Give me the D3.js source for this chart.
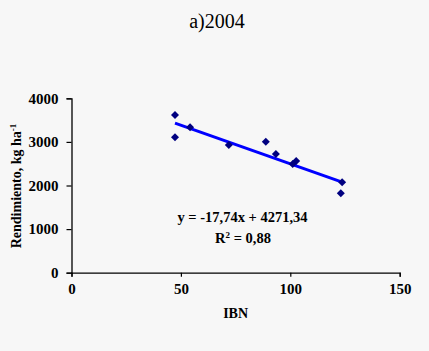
<!DOCTYPE html>
<html>
<head>
<meta charset="utf-8">
<script src="https://cdn.jsdelivr.net/npm/d3@7"></script>
<style>
  body { margin: 0; background: #f7f7f7; }
  svg { display: block; }
</style>
</head>
<body>
<div id="chart"></div>
<script>
// datos (IBN vs rendimiento)
const ibn = [47.3, 47.3, 54.2, 71.9, 88.8, 93.4, 101.1, 102.7, 123.7, 123.1];
const rendimiento = [3616, 3105, 3334, 2928, 3004, 2722, 2493, 2561, 2073, 1821];
const xTicks = [0, 50, 100, 150];
const yTicks = [0, 1000, 2000, 3000, 4000];
const slope = -17.74, intercept = 4271.34;
const lineRange = [47.3, 123.7];

const serif = "'Liberation Serif', 'Times New Roman', serif";
const W = 429, H = 351;
const margin = {top: 98.3, right: 29.3, bottom: 78.3, left: 71.5};
const width = W - margin.left - margin.right,
      height = H - margin.top - margin.bottom;

const svg = d3.select("#chart").append("svg")
    .attr("width", W).attr("height", H)
    .style("font-family", serif);

svg.append("text")
    .attr("x", 217).attr("y", 28)
    .attr("text-anchor", "middle")
    .style("font-size", "20px")
    .text("a)2004");

const g = svg.append("g")
    .attr("transform", "translate(" + margin.left + "," + margin.top + ")");

const x = d3.scaleLinear().domain([0, 150]).range([0, width]);
const y = d3.scaleLinear().domain([0, 4000]).range([height, 0]);

const xaxis = d3.axisBottom(x).tickValues(xTicks).tickFormat(d3.format("d")).tickSize(4).tickPadding(7);
const yaxis = d3.axisLeft(y).tickValues(yTicks).tickFormat(d3.format("d")).tickSize(5).tickPadding(8);

g.append("g").attr("transform", "translate(0," + height + ")").call(xaxis);
g.append("g").call(yaxis);

g.selectAll(".domain").attr("stroke", "#000").attr("stroke-width", 1.3);
g.selectAll(".tick line").attr("stroke", "#000").attr("stroke-width", 1.2);
g.selectAll(".tick text")
    .style("font-family", serif)
    .style("font-size", "15px").style("font-weight", "bold")
    .attr("fill", "#000");

// titulos de ejes
svg.append("text")
    .attr("x", 235.6).attr("y", 318)
    .attr("text-anchor", "middle")
    .style("font-size", "14px").style("font-weight", "bold")
    .text("IBN");

const ylab = svg.append("text")
    .attr("transform", "translate(21,186) rotate(-90)")
    .attr("text-anchor", "middle")
    .style("font-size", "14px").style("font-weight", "bold");
ylab.append("tspan").text("Rendimiento, kg ha");
ylab.append("tspan").attr("dy", -5).style("font-size", "9px").text("-1");

// linea de tendencia
const line = d3.line()
    .x(d => x(d))
    .y(d => y(slope * d + intercept));
g.append("path")
    .datum(lineRange)
    .attr("fill", "none")
    .attr("stroke", "#0000ff")
    .attr("stroke-width", 3)
    .attr("d", line);

// puntos (rombos = cuadrado girado)
const diamond = d3.symbol().type(d3.symbolSquare).size(32);
g.selectAll(".pt")
    .data(ibn)
    .enter().append("path")
    .attr("d", diamond)
    .attr("fill", "#000080")
    .attr("transform", (d, i) => "translate(" + x(d) + "," + y(rendimiento[i]) + ") rotate(45)");

// ecuacion
svg.append("text")
    .attr("x", 242.5).attr("y", 221.5)
    .attr("text-anchor", "middle")
    .style("font-size", "14.5px").style("font-weight", "bold")
    .text("y = -17,74x + 4271,34");
const r2 = svg.append("text")
    .attr("x", 243).attr("y", 243)
    .attr("text-anchor", "middle")
    .style("font-size", "14.5px").style("font-weight", "bold");
r2.append("tspan").text("R");
r2.append("tspan").attr("dy", -5).style("font-size", "9px").text("2");
r2.append("tspan").attr("dy", 5).text(" = 0,88");
</script>
</body>
</html>
